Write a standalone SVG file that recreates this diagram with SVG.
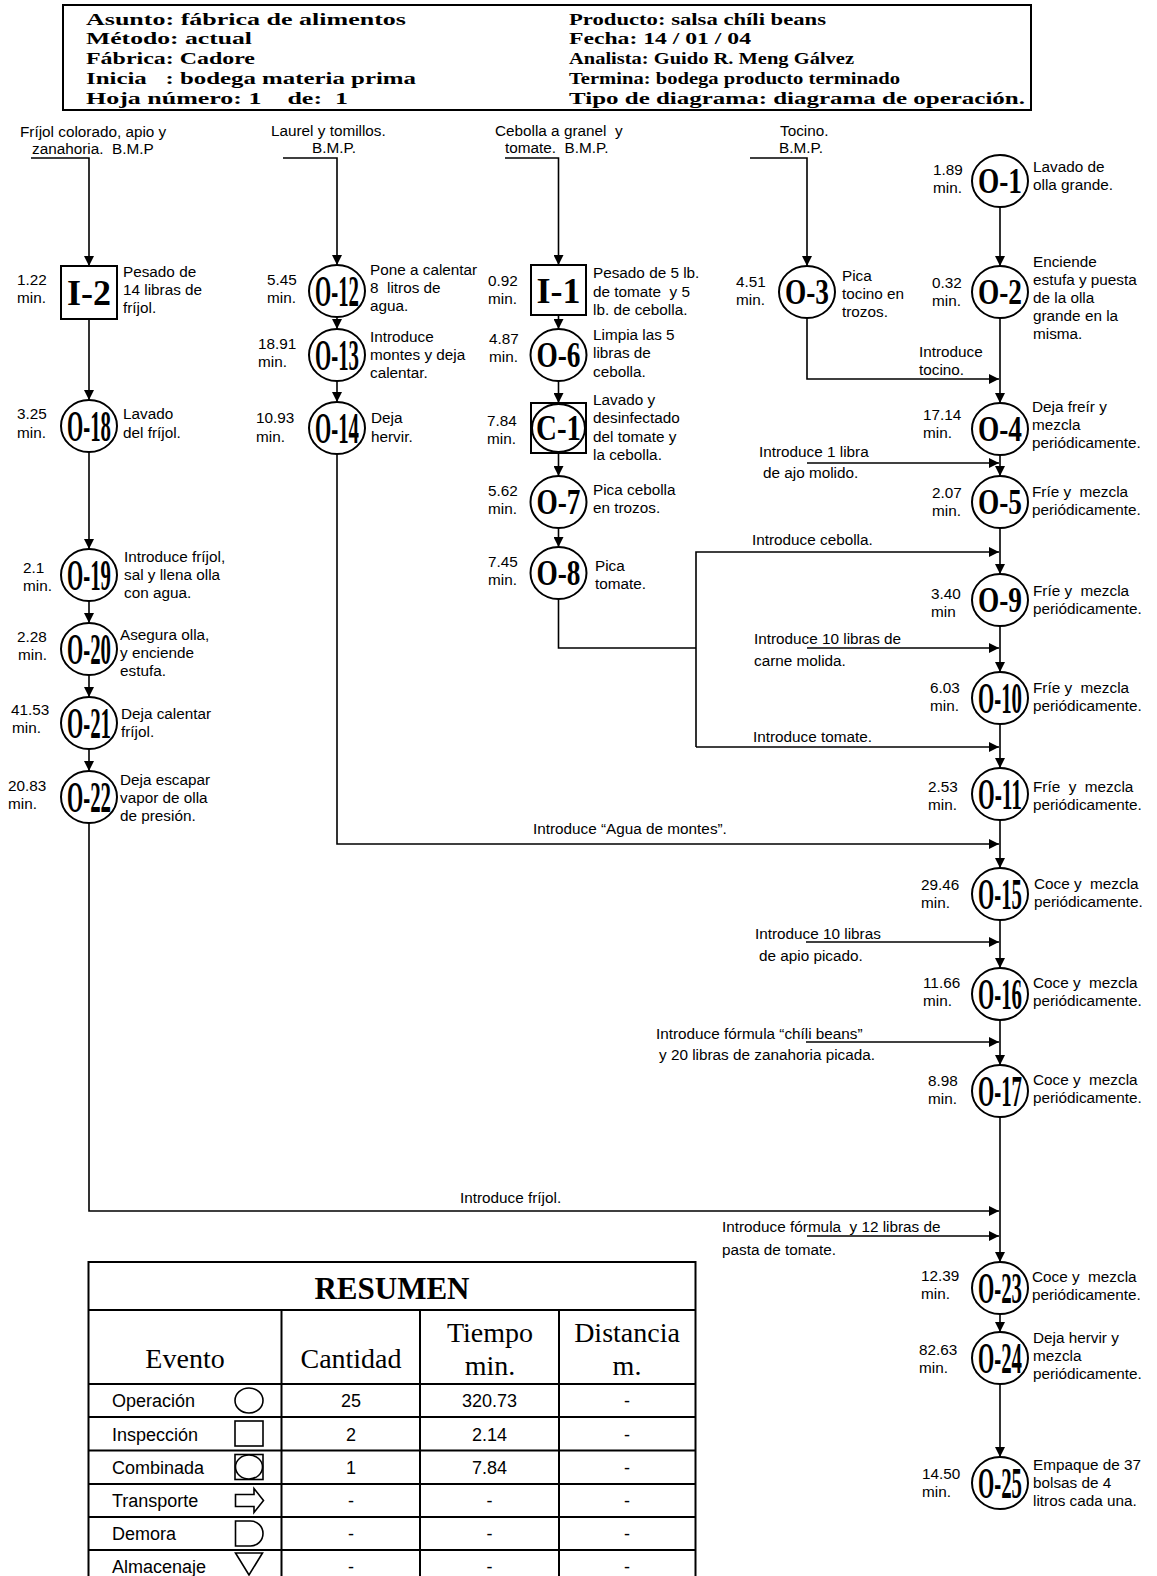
<svg xmlns="http://www.w3.org/2000/svg" width="1157" height="1576" viewBox="0 0 1157 1576">
<style>
text { font-family: "Liberation Sans", Arial, sans-serif; font-size: 15.3px; fill: #000; white-space: pre; }
.hd { font-family: "Liberation Serif", "Times New Roman", serif; font-weight: bold; font-size: 17px; }
.nl { font-family: "Liberation Serif", "Times New Roman", serif; font-weight: bold; text-anchor: middle; }
.n3 { font-size: 36px; }
.n4 { font-size: 44px; }
.nd { fill: #fff; stroke: #000; stroke-width: 2; }
.ln { fill: none; stroke: #000; stroke-width: 1.6; }
.tb { fill: none; stroke: #000; stroke-width: 2; }
.tt { font-family: "Liberation Serif", "Times New Roman", serif; font-size: 28px; text-anchor: middle; }
.tr { font-size: 18px; }
.tc { font-size: 18px; text-anchor: middle; }
.sym { fill: #fff; stroke: #000; stroke-width: 1.6; }
</style>
<defs>
<marker id="ah" viewBox="0 0 10 10" refX="10" refY="5" markerWidth="10" markerHeight="10" orient="auto" markerUnits="userSpaceOnUse">
<path d="M0,0 L10,5 L0,10 Z" fill="#000"/>
</marker>
</defs>
<rect width="1157" height="1576" fill="#fff"/>

<g id="header">
<rect x="63" y="5" width="968" height="105" fill="none" stroke="#000" stroke-width="2"/>
<text class="hd" x="86" y="24.5" textLength="320" lengthAdjust="spacingAndGlyphs">Asunto: fábrica de alimentos</text>
<text class="hd" x="86" y="44.3" textLength="166" lengthAdjust="spacingAndGlyphs">Método: actual</text>
<text class="hd" x="86" y="64.1" textLength="169" lengthAdjust="spacingAndGlyphs">Fábrica: Cadore</text>
<text class="hd" x="86" y="83.9" textLength="330" lengthAdjust="spacingAndGlyphs">Inicia   : bodega materia prima</text>
<text class="hd" x="86" y="103.7" textLength="262" lengthAdjust="spacingAndGlyphs">Hoja número: 1    de:  1</text>
<text class="hd" x="569" y="24.5" textLength="257" lengthAdjust="spacingAndGlyphs">Producto: salsa chíli beans</text>
<text class="hd" x="569" y="44.3" textLength="182" lengthAdjust="spacingAndGlyphs">Fecha: 14 / 01 / 04</text>
<text class="hd" x="569" y="64.1" textLength="285" lengthAdjust="spacingAndGlyphs">Analista: Guido R. Meng Gálvez</text>
<text class="hd" x="569" y="83.9" textLength="331" lengthAdjust="spacingAndGlyphs">Termina: bodega producto terminado</text>
<text class="hd" x="569" y="103.7" textLength="456" lengthAdjust="spacingAndGlyphs">Tipo de diagrama: diagrama de operación.</text>
</g>

<g id="connectors">
<path class="ln" d="M31,158 H89 V266" marker-end="url(#ah)"/>
<path class="ln" d="M89,319 V400" marker-end="url(#ah)"/>
<path class="ln" d="M89,452 V549" marker-end="url(#ah)"/>
<path class="ln" d="M89,601 V623" marker-end="url(#ah)"/>
<path class="ln" d="M89,675 V697" marker-end="url(#ah)"/>
<path class="ln" d="M89,749 V771" marker-end="url(#ah)"/>
<path class="ln" d="M89,823 V1211 H999" marker-end="url(#ah)"/>

<path class="ln" d="M283,158 H337 V265" marker-end="url(#ah)"/>
<path class="ln" d="M337,317 V329" marker-end="url(#ah)"/>
<path class="ln" d="M337,381 V402" marker-end="url(#ah)"/>
<path class="ln" d="M337,454 V844 H999" marker-end="url(#ah)"/>

<path class="ln" d="M505,158 H558.5 V265" marker-end="url(#ah)"/>
<path class="ln" d="M558.5,315 V329" marker-end="url(#ah)"/>
<path class="ln" d="M558.5,381 V403" marker-end="url(#ah)"/>
<path class="ln" d="M558.5,453 V476" marker-end="url(#ah)"/>
<path class="ln" d="M558.5,528 V547" marker-end="url(#ah)"/>
<path class="ln" d="M558.5,599 V648 H696"/>
<path class="ln" d="M696,747 V552 H999" marker-end="url(#ah)"/>
<path class="ln" d="M696,747 H999" marker-end="url(#ah)"/>

<path class="ln" d="M750,158 H807 V266" marker-end="url(#ah)"/>
<path class="ln" d="M807,318 V379 H999" marker-end="url(#ah)"/>

<path class="ln" d="M1000,207 V266" marker-end="url(#ah)"/>
<path class="ln" d="M1000,318 V403" marker-end="url(#ah)"/>
<path class="ln" d="M1000,455 V476" marker-end="url(#ah)"/>
<path class="ln" d="M1000,528 V574" marker-end="url(#ah)"/>
<path class="ln" d="M1000,626 V672" marker-end="url(#ah)"/>
<path class="ln" d="M1000,724 V768" marker-end="url(#ah)"/>
<path class="ln" d="M1000,820 V868" marker-end="url(#ah)"/>
<path class="ln" d="M1000,920 V968" marker-end="url(#ah)"/>
<path class="ln" d="M1000,1020 V1065" marker-end="url(#ah)"/>
<path class="ln" d="M1000,1117 V1262" marker-end="url(#ah)"/>
<path class="ln" d="M1000,1314 V1332" marker-end="url(#ah)"/>
<path class="ln" d="M1000,1384 V1457" marker-end="url(#ah)"/>

<path class="ln" d="M807,463 H999" marker-end="url(#ah)"/>
<path class="ln" d="M807,648 H999" marker-end="url(#ah)"/>
<path class="ln" d="M806,942 H999" marker-end="url(#ah)"/>
<path class="ln" d="M806,1042 H999" marker-end="url(#ah)"/>
<path class="ln" d="M807,1236 H999" marker-end="url(#ah)"/>

<text x="20" y="137">Fríjol colorado, apio y</text>
<text x="32" y="154">zanahoria.  B.M.P</text>
<text x="271" y="136">Laurel y tomillos.</text>
<text x="312" y="153">B.M.P.</text>
<text x="495" y="136">Cebolla a granel  y</text>
<text x="505" y="153">tomate.  B.M.P.</text>
<text x="780" y="136">Tocino.</text>
<text x="779" y="153">B.M.P.</text>
<text x="919" y="357">Introduce</text>
<text x="919" y="375">tocino.</text>
<text x="759" y="457">Introduce 1 libra</text>
<text x="763" y="478">de ajo molido.</text>
<text x="752" y="545">Introduce cebolla.</text>
<text x="754" y="644">Introduce 10 libras de</text>
<text x="754" y="666">carne molida.</text>
<text x="753" y="742">Introduce tomate.</text>
<text x="533" y="834">Introduce “Agua de montes”.</text>
<text x="755" y="939">Introduce 10 libras</text>
<text x="759" y="961">de apio picado.</text>
<text x="656" y="1039">Introduce fórmula “chíli beans”</text>
<text x="659" y="1060">y 20 libras de zanahoria picada.</text>
<text x="460" y="1203">Introduce fríjol.</text>
<text x="722" y="1232">Introduce fórmula  y 12 libras de</text>
<text x="722" y="1255">pasta de tomate.</text>
</g>

<g id="I-2">
<rect class="nd" x="61" y="266" width="56" height="53"/>
<text class="nl n3" x="89" y="305" textLength="44" lengthAdjust="spacingAndGlyphs">I-2</text>
<text x="17" y="285">1.22</text><text x="17" y="303">min.</text>
<text x="123" y="277">Pesado de</text><text x="123" y="295">14 libras de</text><text x="123" y="313">fríjol.</text>
</g>
<g id="O-18">
<ellipse class="nd" cx="89" cy="426" rx="28" ry="26"/>
<text class="nl n4" x="89" y="441" textLength="44" lengthAdjust="spacingAndGlyphs">O-18</text>
<text x="17" y="419">3.25</text><text x="17" y="438">min.</text>
<text x="123" y="419">Lavado</text><text x="123" y="438">del fríjol.</text>
</g>
<g id="O-19">
<ellipse class="nd" cx="89" cy="575" rx="28" ry="26"/>
<text class="nl n4" x="89" y="590" textLength="44" lengthAdjust="spacingAndGlyphs">O-19</text>
<text x="23" y="573">2.1</text><text x="23" y="591">min.</text>
<text x="124" y="562">Introduce fríjol,</text><text x="124" y="580">sal y llena olla</text><text x="124" y="598">con agua.</text>
</g>
<g id="O-20">
<ellipse class="nd" cx="89" cy="649" rx="28" ry="26"/>
<text class="nl n4" x="89" y="664" textLength="44" lengthAdjust="spacingAndGlyphs">O-20</text>
<text x="17" y="642">2.28</text><text x="18" y="660">min.</text>
<text x="120" y="640">Asegura olla,</text><text x="120" y="658">y enciende</text><text x="120" y="676">estufa.</text>
</g>
<g id="O-21">
<ellipse class="nd" cx="89" cy="723" rx="28" ry="26"/>
<text class="nl n4" x="89" y="738" textLength="44" lengthAdjust="spacingAndGlyphs">O-21</text>
<text x="11" y="715">41.53</text><text x="12" y="733">min.</text>
<text x="121" y="719">Deja calentar</text><text x="121" y="737">fríjol.</text>
</g>
<g id="O-22">
<ellipse class="nd" cx="89" cy="797" rx="28" ry="26"/>
<text class="nl n4" x="89" y="812" textLength="44" lengthAdjust="spacingAndGlyphs">O-22</text>
<text x="8" y="791">20.83</text><text x="8" y="809">min.</text>
<text x="120" y="785">Deja escapar</text><text x="120" y="803">vapor de olla</text><text x="120" y="821">de presión.</text>
</g>

<g id="O-12">
<ellipse class="nd" cx="337" cy="291" rx="28" ry="26"/>
<text class="nl n4" x="337" y="306" textLength="44" lengthAdjust="spacingAndGlyphs">O-12</text>
<text x="267" y="285">5.45</text><text x="267" y="303">min.</text>
<text x="370" y="275">Pone a calentar</text><text x="370" y="293">8  litros de</text><text x="370" y="311">agua.</text>
</g>
<g id="O-13">
<ellipse class="nd" cx="337" cy="355" rx="28" ry="26"/>
<text class="nl n4" x="337" y="370" textLength="44" lengthAdjust="spacingAndGlyphs">O-13</text>
<text x="258" y="349">18.91</text><text x="258" y="367">min.</text>
<text x="370" y="342">Introduce</text><text x="370" y="360">montes y deja</text><text x="370" y="378">calentar.</text>
</g>
<g id="O-14">
<ellipse class="nd" cx="337" cy="428" rx="28" ry="26"/>
<text class="nl n4" x="337" y="443" textLength="44" lengthAdjust="spacingAndGlyphs">O-14</text>
<text x="256" y="423">10.93</text><text x="256" y="442">min.</text>
<text x="371" y="423">Deja</text><text x="371" y="442">hervir.</text>
</g>

<g id="I-1">
<rect class="nd" x="531" y="265" width="55" height="50"/>
<text class="nl n3" x="558.5" y="302.5" textLength="44" lengthAdjust="spacingAndGlyphs">I-1</text>
<text x="488" y="286">0.92</text><text x="488" y="304">min.</text>
<text x="593" y="278">Pesado de 5 lb.</text><text x="593" y="297">de tomate  y 5</text><text x="593" y="315">lb. de cebolla.</text>
</g>
<g id="O-6">
<ellipse class="nd" cx="558.5" cy="355" rx="28" ry="26"/>
<text class="nl n3" x="558.5" y="367" textLength="44" lengthAdjust="spacingAndGlyphs">O-6</text>
<text x="489" y="344">4.87</text><text x="489" y="362">min.</text>
<text x="593" y="340">Limpia las 5</text><text x="593" y="358">libras de</text><text x="593" y="377">cebolla.</text>
</g>
<g id="C-1">
<rect class="nd" x="531" y="403" width="55" height="50"/>
<ellipse class="nd" cx="558.5" cy="428" rx="26.5" ry="24"/>
<text class="nl n3" x="558.5" y="440" textLength="45" lengthAdjust="spacingAndGlyphs">C-1</text>
<text x="487" y="426">7.84</text><text x="487" y="444">min.</text>
<text x="593" y="405">Lavado y</text><text x="593" y="423">desinfectado</text><text x="593" y="442">del tomate y</text><text x="593" y="460">la cebolla.</text>
</g>
<g id="O-7">
<ellipse class="nd" cx="558.5" cy="502" rx="28" ry="26"/>
<text class="nl n3" x="558.5" y="514" textLength="44" lengthAdjust="spacingAndGlyphs">O-7</text>
<text x="488" y="496">5.62</text><text x="488" y="514">min.</text>
<text x="593" y="495">Pica cebolla</text><text x="593" y="513">en trozos.</text>
</g>
<g id="O-8">
<ellipse class="nd" cx="558.5" cy="573" rx="28" ry="26"/>
<text class="nl n3" x="558.5" y="585" textLength="44" lengthAdjust="spacingAndGlyphs">O-8</text>
<text x="488" y="567">7.45</text><text x="488" y="585">min.</text>
<text x="595" y="571">Pica</text><text x="595" y="589">tomate.</text>
</g>

<g id="O-3">
<ellipse class="nd" cx="807" cy="292" rx="28" ry="26"/>
<text class="nl n3" x="807" y="304" textLength="44" lengthAdjust="spacingAndGlyphs">O-3</text>
<text x="736" y="287">4.51</text><text x="736" y="305">min.</text>
<text x="842" y="281">Pica</text><text x="842" y="299">tocino en</text><text x="842" y="317">trozos.</text>
</g>

<g id="O-1">
<ellipse class="nd" cx="1000" cy="181" rx="28" ry="26"/>
<text class="nl n3" x="1000" y="193" textLength="44" lengthAdjust="spacingAndGlyphs">O-1</text>
<text x="933" y="175">1.89</text><text x="933" y="193">min.</text>
<text x="1033" y="172">Lavado de</text><text x="1033" y="190">olla grande.</text>
</g>
<g id="O-2">
<ellipse class="nd" cx="1000" cy="292" rx="28" ry="26"/>
<text class="nl n3" x="1000" y="304" textLength="44" lengthAdjust="spacingAndGlyphs">O-2</text>
<text x="932" y="288">0.32</text><text x="932" y="306">min.</text>
<text x="1033" y="267">Enciende</text><text x="1033" y="285">estufa y puesta</text><text x="1033" y="303">de la olla</text><text x="1033" y="321">grande en la</text><text x="1033" y="339">misma.</text>
</g>
<g id="O-4">
<ellipse class="nd" cx="1000" cy="429" rx="28" ry="26"/>
<text class="nl n3" x="1000" y="441" textLength="44" lengthAdjust="spacingAndGlyphs">O-4</text>
<text x="923" y="420">17.14</text><text x="923" y="438">min.</text>
<text x="1032" y="412">Deja freír y</text><text x="1032" y="430">mezcla</text><text x="1032" y="448">periódicamente.</text>
</g>
<g id="O-5">
<ellipse class="nd" cx="1000" cy="502" rx="28" ry="26"/>
<text class="nl n3" x="1000" y="514" textLength="44" lengthAdjust="spacingAndGlyphs">O-5</text>
<text x="932" y="498">2.07</text><text x="932" y="516">min.</text>
<text x="1032" y="497">Fríe y  mezcla</text><text x="1032" y="515">periódicamente.</text>
</g>
<g id="O-9">
<ellipse class="nd" cx="1000" cy="600" rx="28" ry="26"/>
<text class="nl n3" x="1000" y="612" textLength="44" lengthAdjust="spacingAndGlyphs">O-9</text>
<text x="931" y="599">3.40</text><text x="931" y="617">min</text>
<text x="1033" y="596">Fríe y  mezcla</text><text x="1033" y="614">periódicamente.</text>
</g>
<g id="O-10">
<ellipse class="nd" cx="1000" cy="698" rx="28" ry="26"/>
<text class="nl n4" x="1000" y="713" textLength="44" lengthAdjust="spacingAndGlyphs">O-10</text>
<text x="930" y="693">6.03</text><text x="930" y="711">min.</text>
<text x="1033" y="693">Fríe y  mezcla</text><text x="1033" y="711">periódicamente.</text>
</g>
<g id="O-11">
<ellipse class="nd" cx="1000" cy="794" rx="28" ry="26"/>
<text class="nl n4" x="1000" y="809" textLength="44" lengthAdjust="spacingAndGlyphs">O-11</text>
<text x="928" y="792">2.53</text><text x="928" y="810">min.</text>
<text x="1033" y="792">Fríe  y  mezcla</text><text x="1033" y="810">periódicamente.</text>
</g>
<g id="O-15">
<ellipse class="nd" cx="1000" cy="894" rx="28" ry="26"/>
<text class="nl n4" x="1000" y="909" textLength="44" lengthAdjust="spacingAndGlyphs">O-15</text>
<text x="921" y="890">29.46</text><text x="921" y="908">min.</text>
<text x="1034" y="889">Coce y  mezcla</text><text x="1034" y="907">periódicamente.</text>
</g>
<g id="O-16">
<ellipse class="nd" cx="1000" cy="994" rx="28" ry="26"/>
<text class="nl n4" x="1000" y="1009" textLength="44" lengthAdjust="spacingAndGlyphs">O-16</text>
<text x="923" y="988">11.66</text><text x="923" y="1006">min.</text>
<text x="1033" y="988">Coce y  mezcla</text><text x="1033" y="1006">periódicamente.</text>
</g>
<g id="O-17">
<ellipse class="nd" cx="1000" cy="1091" rx="28" ry="26"/>
<text class="nl n4" x="1000" y="1106" textLength="44" lengthAdjust="spacingAndGlyphs">O-17</text>
<text x="928" y="1086">8.98</text><text x="928" y="1104">min.</text>
<text x="1033" y="1085">Coce y  mezcla</text><text x="1033" y="1103">periódicamente.</text>
</g>
<g id="O-23">
<ellipse class="nd" cx="1000" cy="1288" rx="28" ry="26"/>
<text class="nl n4" x="1000" y="1303" textLength="44" lengthAdjust="spacingAndGlyphs">O-23</text>
<text x="921" y="1281">12.39</text><text x="921" y="1299">min.</text>
<text x="1032" y="1282">Coce y  mezcla</text><text x="1032" y="1300">periódicamente.</text>
</g>
<g id="O-24">
<ellipse class="nd" cx="1000" cy="1358" rx="28" ry="26"/>
<text class="nl n4" x="1000" y="1373" textLength="44" lengthAdjust="spacingAndGlyphs">O-24</text>
<text x="919" y="1355">82.63</text><text x="919" y="1373">min.</text>
<text x="1033" y="1343">Deja hervir y</text><text x="1033" y="1361">mezcla</text><text x="1033" y="1379">periódicamente.</text>
</g>
<g id="O-25">
<ellipse class="nd" cx="1000" cy="1483" rx="28" ry="26"/>
<text class="nl n4" x="1000" y="1498" textLength="44" lengthAdjust="spacingAndGlyphs">O-25</text>
<text x="922" y="1479">14.50</text><text x="922" y="1497">min.</text>
<text x="1033" y="1470">Empaque de 37</text><text x="1033" y="1488">bolsas de 4</text><text x="1033" y="1506">litros cada una.</text>
</g>

<g id="resumen">
<rect class="tb" x="88.5" y="1262" width="607" height="330"/>
<path class="tb" d="M88.5,1310 H695.5 M88.5,1384 H695.5 M88.5,1417 H695.5 M88.5,1450.5 H695.5 M88.5,1484 H695.5 M88.5,1517 H695.5 M88.5,1550 H695.5 M281.5,1310 V1580 M420,1310 V1580 M559,1310 V1580"/>
<text class="tt" x="392" y="1299" style="font-weight:bold;font-size:31px">RESUMEN</text>
<text class="tt" x="185" y="1368">Evento</text>
<text class="tt" x="351" y="1368">Cantidad</text>
<text class="tt" x="490" y="1342">Tiempo</text>
<text class="tt" x="490" y="1375">min.</text>
<text class="tt" x="627" y="1342">Distancia</text>
<text class="tt" x="627" y="1375">m.</text>
<text class="tr" x="112" y="1407">Operación</text>
<text class="tr" x="112" y="1440.5">Inspección</text>
<text class="tr" x="112" y="1474">Combinada</text>
<text class="tr" x="112" y="1507">Transporte</text>
<text class="tr" x="112" y="1540">Demora</text>
<text class="tr" x="112" y="1573">Almacenaje</text>
<ellipse class="sym" cx="249" cy="1400.5" rx="14" ry="12.5"/>
<rect class="sym" x="235" y="1421" width="28" height="25"/>
<rect class="sym" x="235" y="1454.5" width="28" height="25"/>
<ellipse class="sym" cx="249" cy="1467" rx="13.5" ry="12"/>
<path class="sym" d="M235.5,1494.5 H254 V1488.5 L263.5,1500.5 L254,1512.5 V1506.5 H235.5 Z"/>
<path class="sym" d="M235.5,1521 H250.5 A12.5,12.5 0 0 1 250.5,1546 H235.5 Z"/>
<path class="sym" d="M235.5,1553 H262.5 L249,1575 Z"/>
<text class="tc" x="351" y="1407">25</text>
<text class="tc" x="489.5" y="1407">320.73</text>
<text class="tc" x="627" y="1407">-</text>
<text class="tc" x="351" y="1440.5">2</text>
<text class="tc" x="489.5" y="1440.5">2.14</text>
<text class="tc" x="627" y="1440.5">-</text>
<text class="tc" x="351" y="1474">1</text>
<text class="tc" x="489.5" y="1474">7.84</text>
<text class="tc" x="627" y="1474">-</text>
<text class="tc" x="351" y="1507">-</text>
<text class="tc" x="489.5" y="1507">-</text>
<text class="tc" x="627" y="1507">-</text>
<text class="tc" x="351" y="1540">-</text>
<text class="tc" x="489.5" y="1540">-</text>
<text class="tc" x="627" y="1540">-</text>
<text class="tc" x="351" y="1573">-</text>
<text class="tc" x="489.5" y="1573">-</text>
<text class="tc" x="627" y="1573">-</text>
</g>
</svg>
